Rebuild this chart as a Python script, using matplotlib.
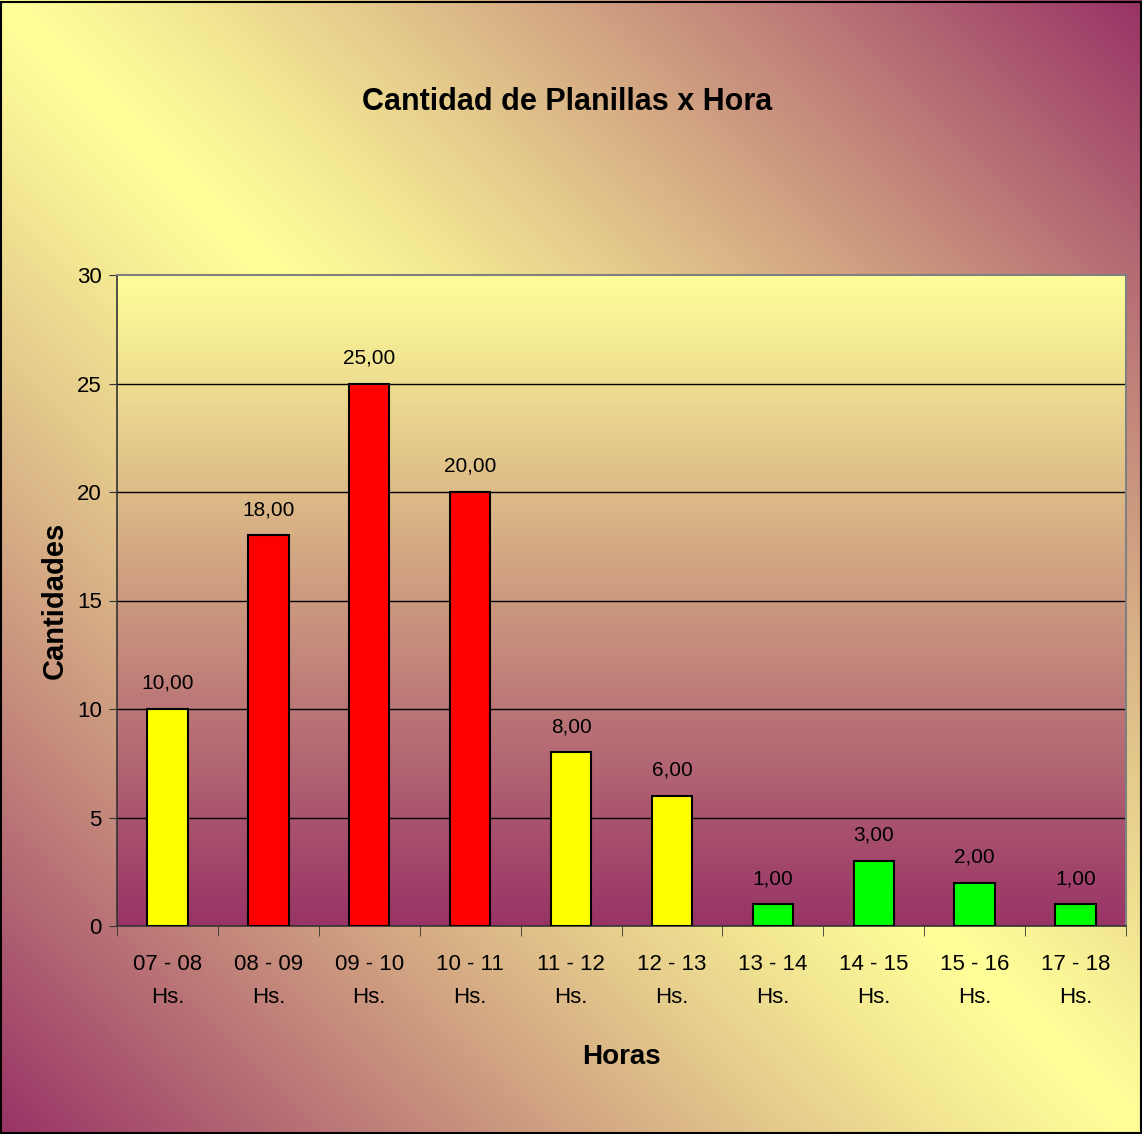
import numpy as np
import matplotlib
matplotlib.use("Agg")
import matplotlib.pyplot as plt
from matplotlib.colors import to_rgb
from matplotlib import font_manager

# --- datos ---
horas = ["07 - 08\nHs.", "08 - 09\nHs.", "09 - 10\nHs.", "10 - 11\nHs.", "11 - 12\nHs.",
         "12 - 13\nHs.", "13 - 14\nHs.", "14 - 15\nHs.", "15 - 16\nHs.", "17 - 18\nHs."]
cantidades = [10, 18, 25, 20, 8, 6, 1, 3, 2, 1]
colores = ["#FFFF00", "#FF0000", "#FF0000", "#FF0000", "#FFFF00",
           "#FFFF00", "#00FF00", "#00FF00", "#00FF00", "#00FF00"]
y_ticks = [0, 5, 10, 15, 20, 25, 30]

AMARILLO = np.array(to_rgb("#FFFF99"))
PURPURA = np.array(to_rgb("#993366"))

names = {f.name for f in font_manager.fontManager.ttflist}
FONT = "Liberation Sans Narrow" if "Liberation Sans Narrow" in names else "Liberation Sans"
plt.rcParams["font.family"] = [FONT, "DejaVu Sans"]

W, H = 1142, 1134
fig = plt.figure(figsize=(W / 100, H / 100), dpi=100)

# fondo del grafico: degradado diagonal
bg = fig.add_axes([0, 0, 1, 1], zorder=-10)
u, v = np.meshgrid(np.linspace(0, 1, 300), np.linspace(0, 1, 300))
t = np.clip(np.abs(u - v), 0, 1)[..., None] ** 1.15
img = AMARILLO * (1 - t) + PURPURA * t
bg.imshow(img, aspect="auto", extent=[0, 1, 1, 0])
bg.set_xlim(0, 1)
bg.set_ylim(1, 0)
bg.axis("off")
fig.patches.append(plt.Rectangle((0.001, 0.001), 0.998, 0.997, transform=fig.transFigure,
                                 fill=False, edgecolor="black", linewidth=1.5))

# area de trazado
ax = fig.add_axes([117 / W, 1 - 926 / H, (1126 - 117) / W, (926 - 275) / H])
n = len(cantidades)
s = np.linspace(0, 1, 200)[:, None]
grad = AMARILLO * (1 - s) + PURPURA * s
ax.imshow(grad[:, None, :], aspect="auto", extent=[-0.5, n - 0.5, 0, 30], zorder=0)

x = np.arange(n)
ax.bar(x, cantidades, width=0.4, color=colores, edgecolor="black", linewidth=1.5, zorder=3)
for xi, val in zip(x, cantidades):
    ax.text(xi, val + 0.75, f"{val:.2f}".replace(".", ","), ha="center", va="bottom",
            fontsize=15, zorder=4)

ax.set_xlim(-0.5, n - 0.5)
ax.set_ylim(0, 30)
ax.set_yticks(y_ticks)
ax.tick_params(axis="y", labelsize=16, length=6, color="#333333", pad=5)
for yv in y_ticks[1:-1]:
    ax.axhline(yv, color="black", linewidth=1, zorder=1)

ax.set_xticks(x)
ax.set_xticklabels(horas, fontsize=16, linespacing=1.75)
ax.tick_params(axis="x", length=0, pad=20)
ax.set_xticks(np.arange(n + 1) - 0.5, minor=True)
ax.tick_params(axis="x", which="minor", length=7, color="#333333")

for side in ["top", "right"]:
    ax.spines[side].set_color("#808080")
    ax.spines[side].set_linewidth(1.5)
for side in ["left", "bottom"]:
    ax.spines[side].set_color("#333333")
    ax.spines[side].set_linewidth(1.2)

ax.set_xlabel("Horas", fontsize=20, fontweight="bold", labelpad=26)
ax.set_ylabel("Cantidades", fontsize=21, fontweight="bold", labelpad=6)
fig.text(567 / W, 1 - 102 / H, "Cantidad de Planillas x Hora", ha="center", va="center",
         fontsize=22, fontweight="bold")

fig.savefig("out.png", dpi=100)
